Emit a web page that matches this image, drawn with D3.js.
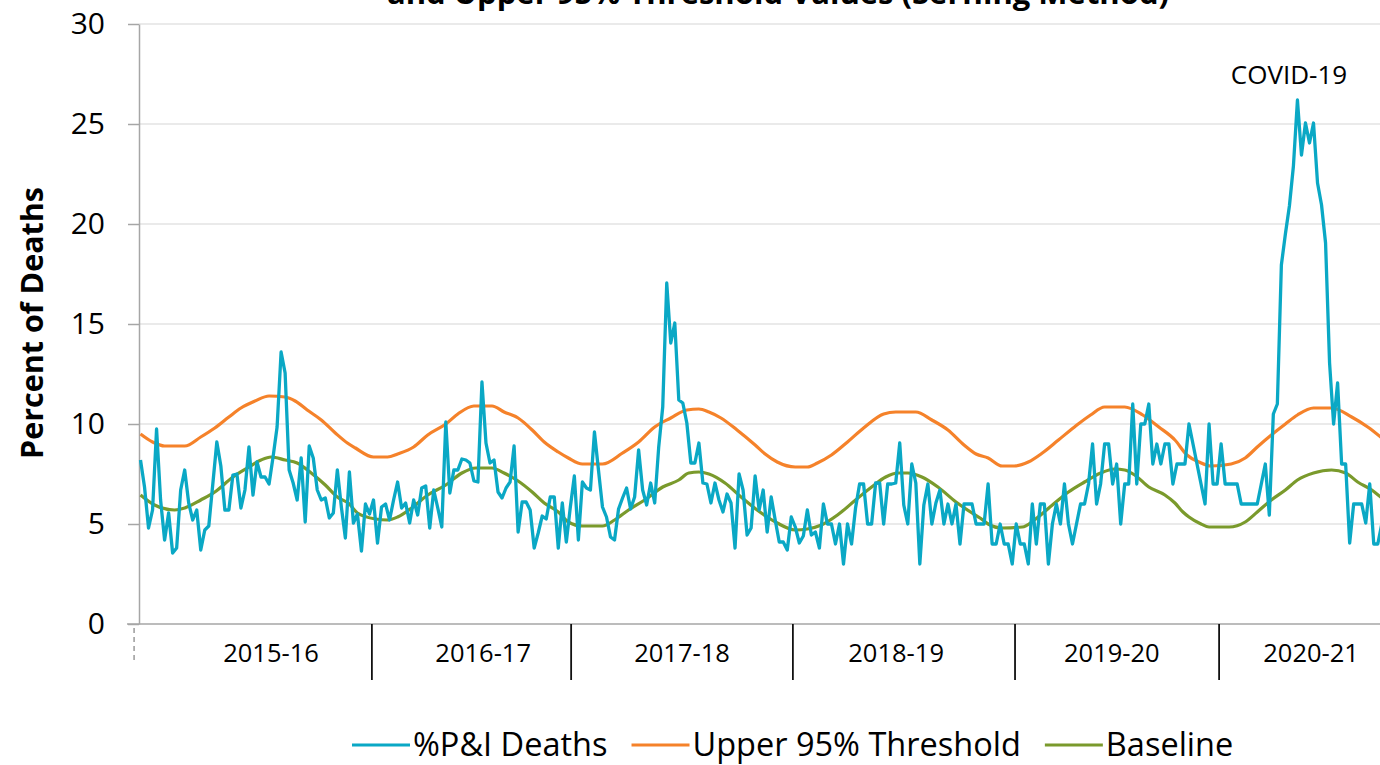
<!DOCTYPE html>
<html>
<head>
<meta charset="utf-8">
<script src="https://cdn.jsdelivr.net/npm/d3@7"></script>
<style>
  body { margin: 0; background: #fff; }
  text { font-family: "Open Sans", sans-serif; fill: #000; }
</style>
</head>
<body>
<script>
// weekly %P&I deaths, one value per week starting at the first week shown
const pctPI = [
    8.2, 6.85, 4.8, 5.7, 9.75, 6.2, 4.2, 5.55, 3.55, 3.8,
    6.7, 7.7, 6.05, 5.2, 5.7, 3.7, 4.7, 4.9, 7.0, 9.1,
    7.9, 5.7, 5.7, 7.45, 7.5, 5.8, 6.7, 8.85, 6.45, 8.1,
    7.35, 7.35, 7.0, 8.35, 9.85, 13.6, 12.55, 7.7, 7.05, 6.2,
    8.3, 5.1, 8.9, 8.3, 6.7, 6.2, 6.3, 5.3, 5.55, 7.7,
    5.85, 4.3, 7.6, 5.05, 5.5, 3.65, 6.0, 5.5, 6.2, 4.05,
    5.85, 6.0, 5.2, 6.2, 7.1, 5.8, 6.05, 5.05, 6.2, 5.45,
    6.8, 6.9, 4.8, 6.7, 5.8, 4.85, 10.1, 6.55, 7.7, 7.7,
    8.25, 8.2, 8.05, 7.15, 7.1, 12.1, 9.05, 8.05, 8.2, 6.6,
    6.3, 6.8, 7.1, 8.9, 4.6, 6.1, 6.1, 5.7, 3.8, 4.55,
    5.4, 5.25, 6.35, 6.35, 3.8, 6.05, 4.1, 5.85, 7.4, 4.2,
    7.1, 6.8, 6.7, 9.6, 7.7, 5.85, 5.35, 4.35, 4.2, 5.75,
    6.3, 6.8, 5.75, 6.35, 8.7, 6.7, 5.95, 7.05, 6.05, 8.85,
    10.85, 17.05, 14.05, 15.05, 11.2, 11.05, 10.05, 8.05, 8.05, 9.05,
    7.05, 7.0, 6.05, 7.05, 6.2, 5.6, 6.5, 6.05, 3.8, 7.5,
    6.7, 4.45, 4.8, 7.4, 5.7, 6.7, 4.6, 6.35, 5.2, 4.1,
    4.1, 3.7, 5.35, 4.85, 4.05, 4.4, 5.7, 4.45, 4.6, 3.8,
    6.0, 5.0, 5.0, 4.0, 5.0, 3.0, 5.0, 4.0, 5.8, 7.0,
    7.0, 5.0, 5.0, 7.05, 7.05, 5.0, 7.0, 7.0, 7.05, 9.05,
    5.95, 5.0, 8.0, 7.05, 3.0, 5.95, 7.0, 5.0, 6.05, 6.7,
    5.0, 6.0, 5.0, 6.0, 4.0, 6.0, 6.0, 6.0, 5.0, 5.0,
    5.0, 7.0, 4.0, 4.0, 5.0, 4.0, 4.0, 3.0, 5.0, 4.0,
    4.0, 3.0, 6.0, 4.0, 6.0, 6.0, 3.0, 5.0, 6.0, 5.0,
    7.0, 5.0, 4.0, 5.0, 6.0, 6.0, 7.0, 9.0, 6.0, 7.0,
    9.0, 9.0, 7.0, 8.0, 5.0, 7.0, 7.0, 11.0, 7.0, 10.0,
    10.0, 11.0, 8.0, 9.0, 8.0, 9.0, 9.0, 7.0, 8.0, 8.0,
    8.0, 10.0, 9.0, 8.0, 7.0, 6.0, 10.0, 7.0, 7.0, 9.0,
    7.0, 7.0, 7.0, 7.0, 6.0, 6.0, 6.0, 6.0, 6.0, 7.0,
    8.0, 5.45, 10.5, 11.0, 17.95, 19.5, 20.9, 22.9, 26.2, 23.45,
    25.05, 24.05, 25.05, 22.05, 20.95, 19.05, 13.05, 10.0, 12.05, 8.0,
    8.0, 4.05, 6.0, 6.0, 6.0, 5.05, 7.0, 4.0, 4.0, 5.0
];

// [week, value]
const threshold = [
    [0, 9.5], [3, 9.1], [6, 8.9], [11, 8.9], [15, 9.35], [18.5, 9.8], [22, 10.35], [25, 10.8],
    [28.5, 11.15], [32, 11.4], [36, 11.35], [38.5, 11.15], [41.5, 10.7], [45, 10.2], [48.5, 9.55],
    [51.5, 9.05], [53.5, 8.8], [58, 8.35], [61.5, 8.35], [64, 8.5], [68, 8.85], [71.5, 9.45],
    [76, 10.0], [79, 10.5], [83, 10.9], [87.5, 10.9], [90.5, 10.6], [94, 10.3], [97.5, 9.7],
    [100.5, 9.1], [104, 8.6], [106.5, 8.3], [110, 8.0], [115, 8.0], [120, 8.55], [124, 9.1],
    [128, 9.85], [132, 10.3], [136, 10.7], [139, 10.75], [141.5, 10.6], [144.5, 10.3], [148.5, 9.7],
    [153, 8.95], [155.5, 8.5], [158.5, 8.1], [163, 7.85], [166, 7.85], [168.5, 8.05], [172, 8.45],
    [176, 9.1], [180, 9.8], [185, 10.5], [188, 10.6], [193, 10.6], [197, 10.2], [201, 9.7],
    [205, 8.95], [208, 8.5], [211, 8.3], [214.5, 7.9], [217.5, 7.9], [221, 8.1], [224.5, 8.55],
    [228.5, 9.2], [232.5, 9.85], [236.5, 10.45], [240, 10.85], [245, 10.85], [249.5, 10.45],
    [253.5, 9.85], [257.5, 9.2], [260.5, 8.45], [263.5, 8.1], [266.5, 7.9], [271.5, 8.0], [275, 8.3],
    [278, 8.85], [281.5, 9.45], [285, 10.0], [288, 10.45], [292, 10.8], [296.5, 10.8], [301.5, 10.35],
    [305.5, 9.85], [309, 9.3]
];

const baseline = [
    [0, 6.45], [3.5, 5.95], [8.5, 5.7], [11, 5.8], [15, 6.2], [18.5, 6.6], [23, 7.35], [27, 7.85],
    [30, 8.2], [32.5, 8.35], [36, 8.2], [39, 8.05], [42.5, 7.55], [46, 6.95], [49, 6.35], [52, 6.0],
    [54, 5.55], [58.5, 5.25], [61.5, 5.2], [64, 5.35], [67.5, 5.8], [71.5, 6.45], [76, 6.95],
    [80, 7.55], [83.5, 7.8], [87.5, 7.8], [90.5, 7.55], [94, 7.15], [97.5, 6.6], [100.5, 6.05],
    [104, 5.6], [106.5, 5.1], [110, 4.9], [115, 4.9], [118, 5.2], [121.5, 5.7], [125.5, 6.2],
    [130, 6.85], [134, 7.2], [136.5, 7.55], [139, 7.6], [141.5, 7.5], [145.5, 7.05], [149.5, 6.35],
    [153.5, 5.7], [156, 5.35], [158.5, 5.05], [163, 4.7], [166, 4.75], [169.5, 4.95], [173.5, 5.45],
    [178, 6.2], [182, 6.85], [185.5, 7.35], [188.5, 7.55], [191, 7.55], [194.5, 7.35], [198.5, 6.85],
    [203, 6.1], [207, 5.55], [209, 5.3], [211, 5.0], [214.5, 4.8], [219.5, 4.85], [222.5, 5.2],
    [227, 5.95], [231, 6.6], [235, 7.1], [239, 7.55], [242.5, 7.75], [245, 7.7], [247.5, 7.45],
    [251, 6.85], [255, 6.45], [257.5, 6.05], [259.5, 5.6], [261, 5.35], [264, 5.0], [266, 4.85],
    [271, 4.85], [275, 5.1], [278, 5.6], [281.5, 6.2], [285, 6.7], [288, 7.2], [292, 7.55],
    [296.5, 7.7], [300, 7.55], [303, 7.1], [306.5, 6.7], [309, 6.3]
];

const seasons = ["2015-16", "2016-17", "2017-18", "2018-19", "2019-20", "2020-21"];
const seasonLabelWeek = [32.5, 85.3, 134.8, 188.1, 241.8, 291.4];
const seasonBreaks = [57.6, 107.2, 162.4, 217.7, 268.5];
const yTicks = [0, 5, 10, 15, 20, 25, 30];

const legendItems = [
    { name: "%P&I Deaths", color: "#0aa8c5" },
    { name: "Upper 95% Threshold", color: "#f5822a" },
    { name: "Baseline", color: "#7a9a2c" }
];

const width = 1380, height = 765;
const plotLeft = 139, plotTop = 24, plotBottom = 624;

const svg = d3.select("body").append("svg")
    .attr("width", width)
    .attr("height", height);

const x = d3.scaleLinear()
    .domain([0, pctPI.length - 1])
    .range([140.5, 1381.8]);

const y = d3.scaleLinear()
    .domain([0, 30])
    .range([plotBottom, plotTop]);

// title (only its last line shows at the top edge, as in the source)
svg.append("text")
    .attr("x", 778)
    .attr("y", 4)
    .attr("text-anchor", "middle")
    .style("font-size", "31px")
    .style("font-weight", "bold")
    .text("and Upper 95% Threshold Values (Serfling Method)");

// gridlines
svg.append("g")
    .selectAll("line")
    .data(yTicks.filter(d => d > 0))
    .join("line")
    .attr("x1", plotLeft)
    .attr("x2", width)
    .attr("y1", d => y(d))
    .attr("y2", d => y(d))
    .attr("stroke", "#e3e3e3")
    .attr("stroke-width", 1.5);

// y axis
const yAxis = d3.axisLeft(y).tickValues(yTicks).tickSize(11).tickSizeOuter(0).tickPadding(23);
const gy = svg.append("g")
    .attr("transform", `translate(${plotLeft},0)`)
    .call(yAxis);
gy.select(".domain").attr("stroke", "#a6a6a6").attr("stroke-width", 1.5);
gy.selectAll(".tick line").attr("stroke", "#a6a6a6").attr("stroke-width", 1.5);
gy.selectAll(".tick text")
    .style("font-size", "30px")
    .style("font-family", "'Open Sans', sans-serif")
    .attr("fill", "#000");

// x axis baseline
svg.append("line")
    .attr("x1", 127)
    .attr("x2", width)
    .attr("y1", plotBottom)
    .attr("y2", plotBottom)
    .attr("stroke", "#a6a6a6")
    .attr("stroke-width", 1.5);

// small dashed tick of the leading group
svg.append("line")
    .attr("x1", x(-1.6))
    .attr("x2", x(-1.6))
    .attr("y1", plotBottom + 4)
    .attr("y2", plotBottom + 36)
    .attr("stroke", "#8a8a8a")
    .attr("stroke-width", 1.3)
    .attr("stroke-dasharray", "5,4");

// season separators
svg.append("g")
    .selectAll("line")
    .data(seasonBreaks)
    .join("line")
    .attr("x1", d => x(d))
    .attr("x2", d => x(d))
    .attr("y1", plotBottom)
    .attr("y2", 680)
    .attr("stroke", "#111")
    .attr("stroke-width", 1.8);

svg.append("g")
    .selectAll("text")
    .data(seasons)
    .join("text")
    .attr("x", (d, i) => x(seasonLabelWeek[i]))
    .attr("y", 662)
    .attr("text-anchor", "middle")
    .style("font-size", "25.5px")
    .text(d => d);

// y axis title
svg.append("text")
    .attr("transform", "translate(31,323) rotate(-90)")
    .attr("text-anchor", "middle")
    .attr("dominant-baseline", "central")
    .style("font-size", "30.5px")
    .style("font-weight", "bold")
    .text("Percent of Deaths");

// lines
const smooth = d3.line()
    .x(d => x(d[0]))
    .y(d => y(d[1]))
    .curve(d3.curveMonotoneX);

svg.append("path")
    .datum(threshold)
    .attr("d", smooth)
    .attr("fill", "none")
    .attr("stroke", legendItems[1].color)
    .attr("stroke-width", 3.2);

svg.append("path")
    .datum(baseline)
    .attr("d", smooth)
    .attr("fill", "none")
    .attr("stroke", legendItems[2].color)
    .attr("stroke-width", 3.2);

const weekly = d3.line()
    .x((d, i) => x(i))
    .y(d => y(d));

svg.append("path")
    .datum(pctPI)
    .attr("d", weekly)
    .attr("fill", "none")
    .attr("stroke", legendItems[0].color)
    .attr("stroke-width", 3.3)
    .attr("stroke-linejoin", "round");

// annotation
svg.append("text")
    .attr("x", 1289)
    .attr("y", 84)
    .attr("text-anchor", "middle")
    .style("font-size", "26px")
    .text("COVID-19");

// legend
const legend = svg.append("g").attr("transform", "translate(352,745)");
let lx = 0;
legendItems.forEach(item => {
    legend.append("line")
        .attr("x1", lx)
        .attr("x2", lx + 58)
        .attr("y1", 0)
        .attr("y2", 0)
        .attr("stroke", item.color)
        .attr("stroke-width", 3.2);
    const t = legend.append("text")
        .attr("x", lx + 61)
        .attr("y", 0)
        .attr("dy", "0.35em")
        .style("font-size", "32.5px")
        .text(item.name);
    lx += 61 + t.node().getComputedTextLength() + 24;
});
</script>
</body>
</html>
